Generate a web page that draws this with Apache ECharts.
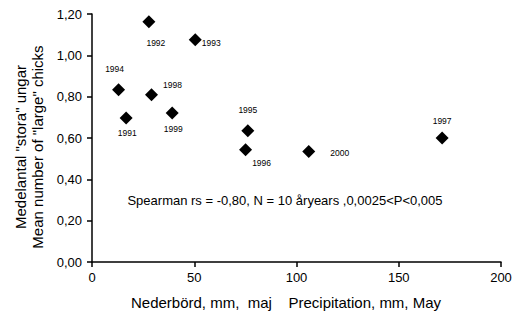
<!DOCTYPE html>
<html>
<head>
<meta charset="utf-8">
<script src="https://cdn.jsdelivr.net/npm/echarts@6/dist/echarts.min.js"></script>
<style>
  html, body { margin: 0; padding: 0; background: #fff; }
  #chart { width: 521px; height: 314px; }
</style>
</head>
<body>
<div id="chart"></div>
<script>
// Data
const years = ['1991', '1992', '1993', '1994', '1995', '1996', '1997', '1998', '1999', '2000'];
const precipitation = [16.7, 27.8, 50.5, 13.0, 76.2, 75.1, 171.2, 29.1, 39.2, 106.0];
const largeChicks = [0.697, 1.162, 1.075, 0.833, 0.635, 0.543, 0.600, 0.809, 0.721, 0.535];

// where each year label sits relative to its marker
const labelOffsets = [[1, 15], [7, 21], [16, 3], [-4, -21], [0, -21], [16, 13], [0, -17], [21, -10], [1, 16], [31, 2]];

const FONT = 'Liberation Sans, Arial, sans-serif';

const chart = echarts.init(document.getElementById('chart'), null, { renderer: 'svg' });

const points = years.map((y, i) => ({
  name: y,
  value: [precipitation[i], largeChicks[i]],
  label: { offset: labelOffsets[i] }
}));

const option = {
  animation: false,
  backgroundColor: '#fff',
  textStyle: { fontFamily: FONT },
  grid: { left: 92, right: 20, top: 14, bottom: 52 },
  xAxis: {
    type: 'value',
    min: 0,
    max: 200,
    interval: 50,
    axisLine: { lineStyle: { color: '#000', width: 1.5 } },
    axisTick: { length: 5, lineStyle: { color: '#000', width: 1.5 } },
    axisLabel: { color: '#000', fontSize: 13, margin: 9, fontFamily: FONT },
    splitLine: { show: false }
  },
  yAxis: {
    type: 'value',
    min: 0,
    max: 1.2,
    interval: 0.2,
    axisLine: { show: true, lineStyle: { color: '#000', width: 1.5 } },
    axisTick: { show: true, length: 5, lineStyle: { color: '#000', width: 1.5 } },
    axisLabel: {
      color: '#000',
      fontSize: 13,
      margin: 10,
      fontFamily: FONT,
      formatter: v => v.toFixed(2).replace('.', ',')
    },
    splitLine: { show: false }
  },
  graphic: [
    {
      type: 'text',
      x: 20, y: 147,
      rotation: Math.PI / 2,
      style: {
        text: 'Medelantal "stora" ungar',
        font: '15px ' + FONT,
        fill: '#000',
        textAlign: 'center',
        textVerticalAlign: 'middle'
      }
    },
    {
      type: 'text',
      x: 37, y: 147,
      rotation: Math.PI / 2,
      style: {
        text: 'Mean number of "large" chicks',
        font: '15px ' + FONT,
        fill: '#000',
        textAlign: 'center',
        textVerticalAlign: 'middle'
      }
    },
    {
      type: 'text',
      x: 286, y: 302,
      style: {
        text: 'Nederbörd, mm,  maj    Precipitation, mm, May',
        font: '15px ' + FONT,
        fill: '#000',
        textAlign: 'center',
        textVerticalAlign: 'middle'
      }
    },
    {
      type: 'text',
      x: 285, y: 200,
      style: {
        text: 'Spearman rs = -0,80, N = 10 åryears ,0,0025<P<0,005',
        font: '13px ' + FONT,
        fill: '#000',
        textAlign: 'center',
        textVerticalAlign: 'middle'
      }
    }
  ],
  series: [
    {
      type: 'scatter',
      symbol: 'diamond',
      symbolSize: 13,
      itemStyle: { color: '#000', opacity: 1 },
      label: {
        show: true,
        position: 'inside',
        color: '#000',
        fontSize: 8.5,
        fontFamily: FONT,
        formatter: p => p.name
      },
      data: points
    }
  ]
};

chart.setOption(option);
</script>
</body>
</html>
